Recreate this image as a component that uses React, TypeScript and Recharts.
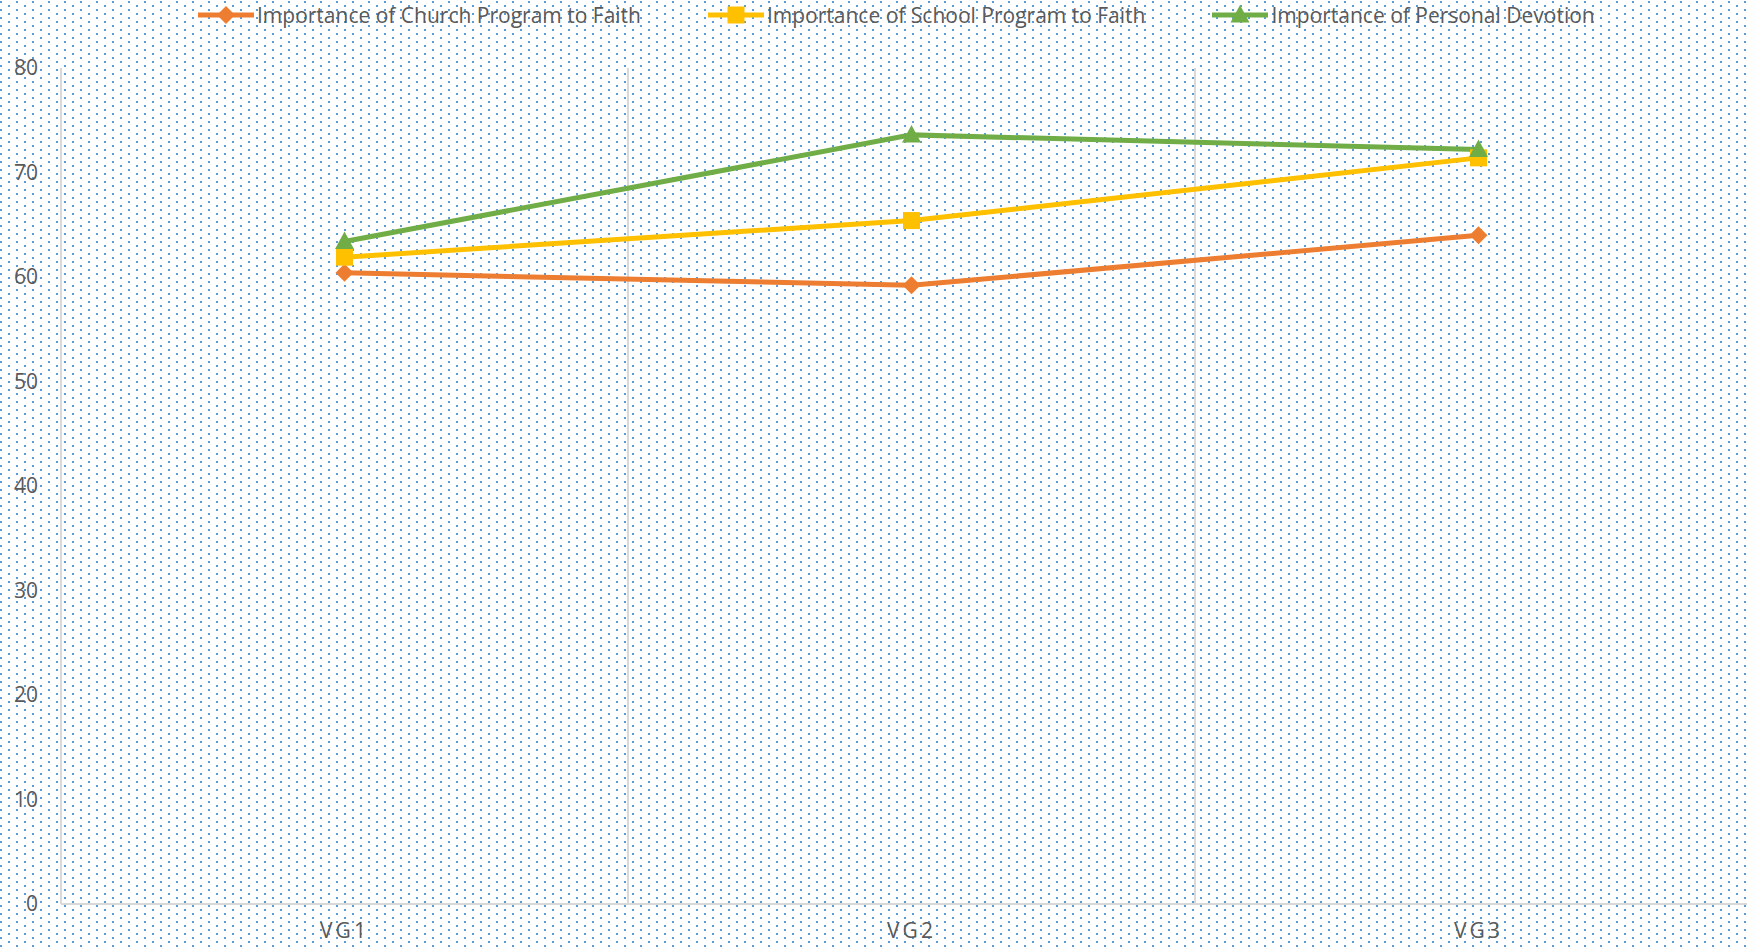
import { LineChart, Line, XAxis, YAxis, CartesianGrid, Legend } from "recharts";

const categories = ["VG1", "VG2", "VG3"];
const churchProgram = [60.4, 59.2, 64.0];
const schoolProgram = [61.9, 65.4, 71.4];
const personalDevotion = [63.4, 73.6, 72.2];
const yTicks = [0, 10, 20, 30, 40, 50, 60, 70, 80];

const SERIES = [
  { key: "church", name: "Importance of Church Program to Faith", color: "#ed7d31", marker: "diamond" },
  { key: "school", name: "Importance of School Program to Faith", color: "#ffc000", marker: "square" },
  { key: "devotion", name: "Importance of Personal Devotion", color: "#70ad47", marker: "triangle" },
];

const data = categories.map((name, i) => ({
  name,
  church: churchProgram[i],
  school: schoolProgram[i],
  devotion: personalDevotion[i],
}));

const WIDTH = 1780;
const HEIGHT = 947;
const MARGIN = { top: 38, right: 18, bottom: 13, left: 0 };
const Y_AXIS_WIDTH = 61;
const PLOT_WIDTH = WIDTH - MARGIN.left - MARGIN.right - Y_AXIS_WIDTH;
const CAT_PAD = PLOT_WIDTH / (2 * categories.length);

const FONT = "'Open Sans', sans-serif";
const TEXT = "#595959";
const GRID = "#d9d9d9";

const DOTS =
  "url(\"data:image/svg+xml;utf8,<svg xmlns='http://www.w3.org/2000/svg' width='16' height='8'>" +
  "<rect x='0' y='1' width='2' height='2' fill='%235b9bd5'/>" +
  "<rect x='8' y='5' width='2' height='2' fill='%235b9bd5'/></svg>\")";

function Marker({ kind, cx, cy, color }: { kind: string; cx: number; cy: number; color: string }) {
  if (kind === "diamond") {
    return <polygon points={`${cx},${cy - 9} ${cx + 9},${cy} ${cx},${cy + 9} ${cx - 9},${cy}`} fill={color} />;
  }
  if (kind === "square") {
    return <rect x={cx - 8.5} y={cy - 8.5} width={17} height={17} fill={color} />;
  }
  return <polygon points={`${cx},${cy - 10} ${cx + 9.5},${cy + 7.5} ${cx - 9.5},${cy + 7.5}`} fill={color} />;
}

const renderLegend = () => (
  <div
    style={{
      display: "flex",
      alignItems: "center",
      height: 30,
      paddingLeft: 198,
      fontFamily: FONT,
      fontSize: 21,
      color: TEXT,
      whiteSpace: "nowrap",
    }}
  >
    {SERIES.map((s) => (
      <div key={s.key} style={{ display: "flex", alignItems: "center", marginRight: 67 }}>
        <svg width={56} height={22}>
          <line x1={0} y1={11} x2={56} y2={11} stroke={s.color} strokeWidth={5} />
          <Marker kind={s.marker} cx={28} cy={11} color={s.color} />
        </svg>
        <span style={{ marginLeft: 3 }}>{s.name}</span>
      </div>
    ))}
  </div>
);

export default function App() {
  return (
    <div
      style={{
        position: "absolute",
        left: 0,
        top: 0,
        width: 1747,
        height: 947,
        overflow: "hidden",
        backgroundColor: "#fff",
        backgroundImage: DOTS,
      }}
    >
      <LineChart width={WIDTH} height={HEIGHT} data={data} margin={MARGIN}>
        <CartesianGrid
          horizontal={false}
          stroke={GRID}
          strokeWidth={2}
          verticalCoordinatesGenerator={({ offset }: any) =>
            Array.from({ length: categories.length + 1 }, (_, i) => offset.left + (i * offset.width) / categories.length)
          }
        />
        <XAxis
          dataKey="name"
          padding={{ left: CAT_PAD, right: CAT_PAD }}
          axisLine={{ stroke: GRID, strokeWidth: 2 }}
          tickLine={false}
          tickMargin={13}
          tick={{ fill: TEXT, fontSize: 21, fontFamily: FONT, letterSpacing: 3 }}
        />
        <YAxis
          width={Y_AXIS_WIDTH}
          domain={[0, 80]}
          ticks={yTicks}
          axisLine={false}
          tickLine={false}
          tickMargin={17}
          tick={{ fill: TEXT, fontSize: 21, fontFamily: FONT }}
        />
        <Legend verticalAlign="top" content={renderLegend} wrapperStyle={{ top: 0, left: 0 }} />
        {SERIES.map((s) => (
          <Line
            key={s.key}
            dataKey={s.key}
            name={s.name}
            stroke={s.color}
            strokeWidth={5}
            isAnimationActive={false}
            dot={(p: any) => <Marker key={`${s.key}-${p.index}`} kind={s.marker} cx={p.cx} cy={p.cy} color={s.color} />}
            activeDot={false}
          />
        ))}
      </LineChart>
    </div>
  );
}
